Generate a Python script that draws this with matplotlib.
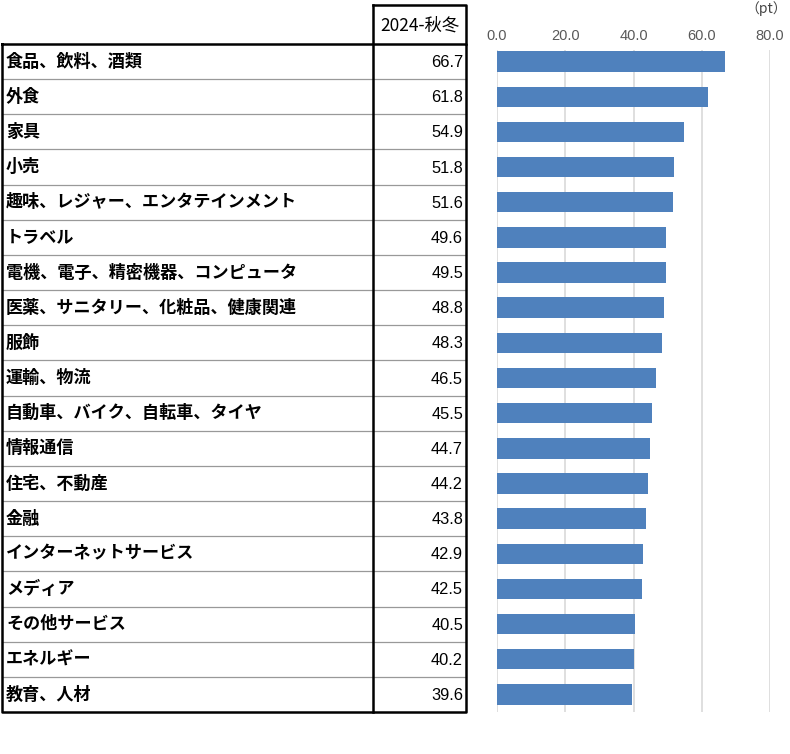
import matplotlib.pyplot as plt

plt.rcParams['font.family'] = ['Noto Sans CJK JP', 'DejaVu Sans']

categories = ["食品、飲料、酒類", "外食", "家具", "小売", "趣味、レジャー、エンタテインメント",
              "トラベル", "電機、電子、精密機器、コンピュータ", "医薬、サニタリー、化粧品、健康関連",
              "服飾", "運輸、物流", "自動車、バイク、自転車、タイヤ", "情報通信", "住宅、不動産",
              "金融", "インターネットサービス", "メディア", "その他サービス", "エネルギー", "教育、人材"]
values = [66.7, 61.8, 54.9, 51.8, 51.6, 49.6, 49.5, 48.8, 48.3, 46.5,
          45.5, 44.7, 44.2, 43.8, 42.9, 42.5, 40.5, 40.2, 39.6]
header = "2024-秋冬"
xticks = [0, 20, 40, 60, 80]
unit = "（pt）"

W, H = 790, 754
fig = plt.figure(figsize=(W / 100, H / 100), dpi=100)

# table drawn in pixel coordinates on a full-figure overlay
tab = fig.add_axes([0, 0, 1, 1])
tab.set_xlim(0, W)
tab.set_ylim(H, 0)
tab.axis('off')

top, bottom = 44, 712
x0, x1, x2 = 2, 373, 466
n = len(categories)
rh = (bottom - top) / n

for i in range(1, n):
    y = top + i * rh
    tab.plot([x0, x2], [y, y], color='#999999', lw=0.9)

thick = dict(color='black', lw=1.8, solid_capstyle='projecting')
tab.plot([x0, x2, x2, x0, x0], [top, top, bottom, bottom, top], **thick)
tab.plot([x1, x1], [5, bottom], **thick)
tab.plot([x1, x2, x2], [5, 5, top], **thick)

tab.text((x1 + x2) / 2, (5 + top) / 2 + 1, header, ha='center', va='center', fontsize=12.5)
for i, (c, v) in enumerate(zip(categories, values)):
    yc = top + (i + 0.5) * rh
    tab.text(x0 + 4, yc, c, ha='left', va='center', fontsize=12.3, fontweight='bold')
    tab.text(x2 - 3, yc + 1, f"{v:.1f}", ha='right', va='center', fontsize=11.8,
             family=['Liberation Sans Narrow', 'Liberation Sans', 'DejaVu Sans'])

tab.text(787, 9, unit, ha='right', va='center', fontsize=10, color='#444444')

# bar chart
gtop = 50
ax = fig.add_axes([497 / W, 1 - bottom / H, (770 - 497) / W, (bottom - gtop) / H])
ax.barh(range(n), values, height=0.58, color='#4f81bd', zorder=3)
ax.set_xlim(0, 80)
ax.set_ylim(n - 0.5, -0.5 + (gtop - top) / rh)
ax.set_xticks(xticks)
ax.set_xticklabels([f"{t:.1f}" for t in xticks], color='#595959', fontsize=10.5,
                   family=['Liberation Sans', 'DejaVu Sans'])
ax.xaxis.tick_top()
ax.tick_params(axis='x', length=0, pad=5)
ax.set_yticks([])
ax.grid(axis='x', color='#d9d9d9', lw=1.2, zorder=0)
for s in ax.spines.values():
    s.set_visible(False)

fig.savefig('out.png', dpi=100)
